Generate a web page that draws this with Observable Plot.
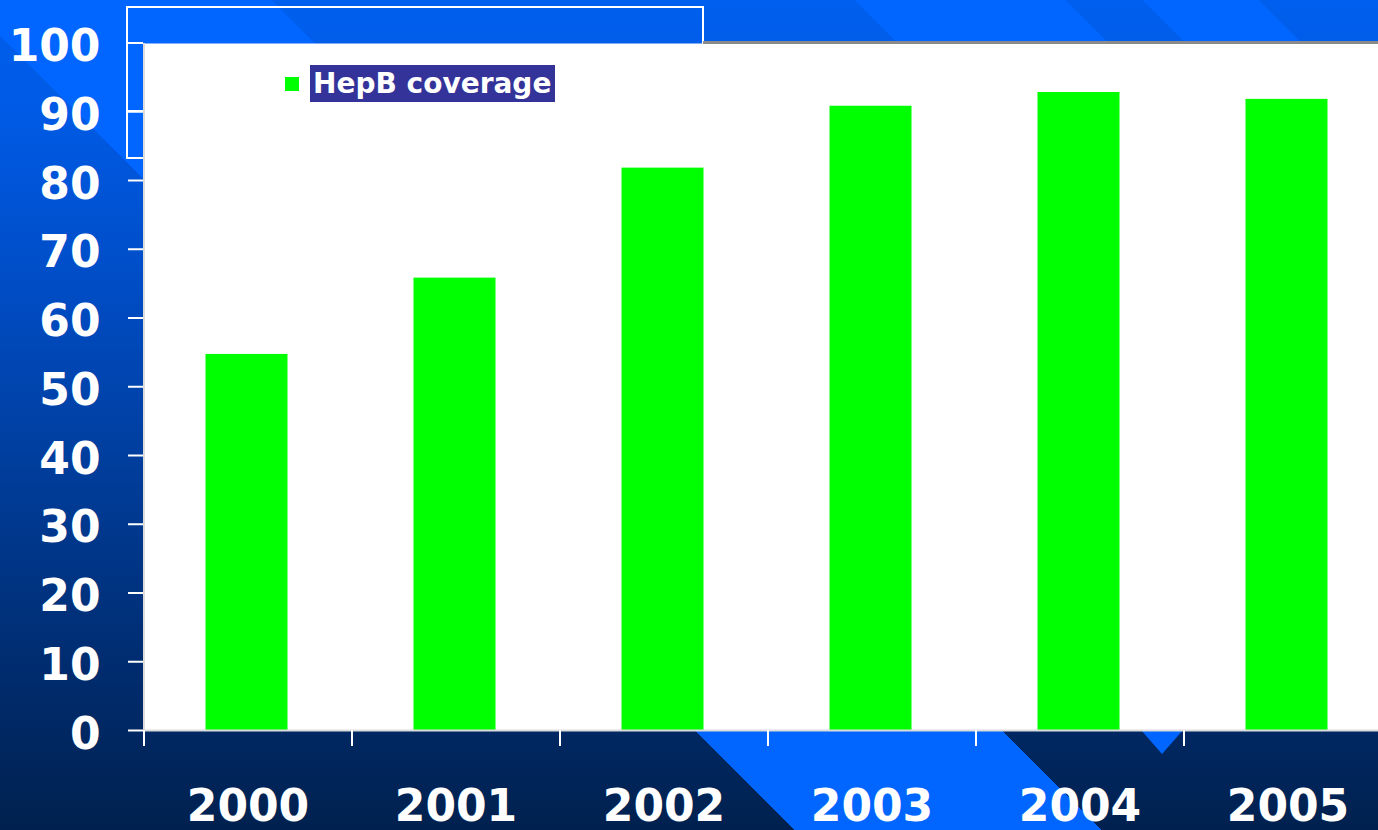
<!DOCTYPE html>
<html>
<head>
<meta charset="utf-8">
<script src="https://cdn.jsdelivr.net/npm/d3@7"></script>
<script src="https://cdn.jsdelivr.net/npm/@observablehq/plot@0.6"></script>
<style>
  html, body { margin: 0; padding: 0; }
  body {
    width: 1378px; height: 830px; overflow: hidden; position: relative;
    background:
      linear-gradient(45deg, transparent 562px, #0066ff 562px, #0066ff 779px, transparent 779px),
      linear-gradient(45deg, transparent 1191px, #0066ff 1191px, #0066ff 1340px, transparent 1340px),
      linear-gradient(45deg, transparent 1395px, #0066ff 1395px, #0066ff 1477px, transparent 1477px),
      linear-gradient(to bottom, #005fee 0%, #005ae4 14%, #004cc4 35%, #003c98 58%, #002b6c 82%, #00214f 100%);
    font-family: "DejaVu Sans", sans-serif;
  }
  .deco { position: absolute; }
  #box { left: 126px; top: 6px; width: 574px; height: 149px; border: 2px solid #ffffff; }
  #boxline1 { left: 127px; top: 42px; width: 16px; height: 2px; background: #ffffff; }
  #boxline2 { left: 127px; top: 110px; width: 16px; height: 2px; background: #ffffff; }
  #shadow { left: 703px; top: 41px; width: 675px; height: 3px; background: #8a8a8a; }
  #tri { left: 1141px; top: 730px; width: 42px; height: 24px; background: #0066ff;
         clip-path: polygon(0 0, 100% 0, 50% 100%); }
  #chart { position: absolute; left: 0; top: 0; }
  #legend { position: absolute; left: 285px; top: 65px; display: flex; align-items: center; }
  #legend .sw { width: 14px; height: 14px; background: #00ff00; margin-right: 11px; }
  #legend .lab { background: #333399; color: #ffffff; font-family: "DejaVu Sans", sans-serif;
                 font-weight: bold; font-size: 28px; line-height: 37px; height: 37px; padding: 0 4px 0 3px; }
</style>
</head>
<body>
<div class="deco" id="tri"></div>
<div class="deco" id="box"></div>
<div class="deco" id="boxline1"></div>
<div class="deco" id="boxline2"></div>
<div id="chart"></div>
<div class="deco" id="shadow"></div>
<div id="legend"></div>
<script>
const years = [2000, 2001, 2002, 2003, 2004, 2005];
const coverage = [54.7, 65.8, 81.8, 90.8, 92.8, 91.8];
const yTicks = [0, 10, 20, 30, 40, 50, 60, 70, 80, 90, 100];
const seriesName = "HepB coverage";
const barColor = "#00ff00";

const data = years.map((year, i) => ({year, value: coverage[i]}));
const xDomain = [years[0] - 0.5, years[years.length - 1] + 0.5];
const boundaries = years.map(y => y - 0.5);

const chart = Plot.plot({
  width: 1378,
  height: 830,
  marginLeft: 143,
  marginRight: 0,
  marginTop: 43,
  marginBottom: 100,
  style: {background: "transparent", color: "white", fontFamily: "DejaVu Sans", overflow: "visible"},
  x: {type: "linear", domain: xDomain, range: [143.5, 1391.5]},
  y: {domain: [0, 100], range: [730, 42.5]},
  marks: [
    Plot.frame({fill: "white", stroke: null}),
    Plot.rectY(data, {x1: d => d.year - 0.5, x2: d => d.year + 0.5, y1: 0, y2: "value",
                      fill: barColor, insetLeft: 62, insetRight: 64}),
    Plot.ruleY([0], {stroke: "#dcdcdc", strokeWidth: 2}),
    Plot.ruleX([xDomain[0]], {stroke: "#dcdcdc", strokeWidth: 2}),
    Plot.axisY({ticks: yTicks, tickSize: 15, stroke: "white", strokeWidth: 2,
                tickFormat: () => "", label: null}),
    Plot.axisY({ticks: yTicks, tickSize: 0, tickPadding: 43, fill: "white", fontSize: 44,
                fontWeight: "bold", dy: 4, tickFormat: d => String(d), label: null}),
    Plot.axisX({ticks: boundaries, tickSize: 16, stroke: "white", strokeWidth: 2,
                tickFormat: () => "", label: null}),
    Plot.axisX({ticks: years, tickSize: 0, tickPadding: 59, fill: "white", fontSize: 44,
                fontWeight: "bold", tickFormat: d => String(d), label: null})
  ]
});
document.getElementById("chart").appendChild(chart);

const legend = document.getElementById("legend");
legend.innerHTML = `<div class="sw"></div><div class="lab"></div>`;
legend.querySelector(".lab").textContent = seriesName;
</script>
</body>
</html>
